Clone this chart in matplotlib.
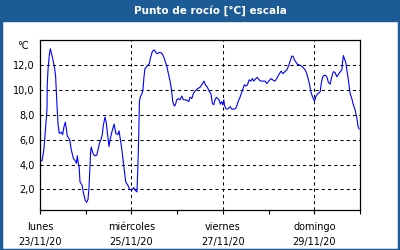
import matplotlib.pyplot as plt
import numpy as np

# horas desde lunes 23/11/20 00:00, punto de rocío en °C
horas = [0, 1.05, 1.6, 2.1, 2.5, 3.0, 3.7, 3.8, 4.2, 4.9, 5.4, 5.9, 6.7, 7.2, 7.7, 8.2,
         8.9, 9.5, 10.1, 11.2, 11.9, 12.6, 13.3, 13.8, 14.3, 15.6, 16.4, 17.5, 18.5,
         19.1, 19.6, 20.0, 20.6, 21.0, 22.1, 22.7, 23.8, 24.5, 25.2, 25.7, 26.3, 26.6,
         26.9, 27.8, 28.7, 29.8, 30.6, 31.4, 32.0, 32.7, 33.2, 34.1, 34.7, 35.6, 36.2,
         36.8, 37.7, 38.9, 39.8, 40.8, 41.5, 42.2, 42.9, 43.7, 44.3, 45.0, 46.1, 47.1,
         48.2, 49.2, 49.9, 50.9, 51.3, 51.8, 52.2, 52.7, 53.6, 54.1, 54.6, 55.1, 56.2,
         57.4, 57.9, 59.0, 60.0, 60.4, 61.3, 62.7, 63.9, 64.8, 65.7, 66.5, 67.4, 68.3,
         69.0, 69.7, 70.5, 71.1, 71.8, 72.6, 73.5, 74.4, 75.3, 76.7, 78.1, 78.8, 79.7,
         80.5, 81.4, 82.8, 84.0, 85.1, 86.1, 86.8, 87.9, 88.8, 89.8, 90.5, 91.2, 91.9,
         92.6, 93.3, 94.0, 94.7, 95.4, 96.0, 96.5, 96.8, 97.5, 98.2, 98.9, 99.8, 100.7,
         101.5, 102.8, 103.5, 104.1, 105.0, 105.9, 106.6, 107.3, 108.0, 108.9, 109.8,
         110.7, 111.5, 112.2, 113.3, 114.1, 115.0, 116.1, 117.3, 118.2, 119.1, 120.1,
         121.3, 122.2, 123.1, 123.9, 124.8, 125.7, 126.6, 127.5, 128.5, 129.6, 130.6,
         131.3, 132.2, 132.9, 133.6, 134.5, 135.1, 136.2, 137.4, 138.7, 139.7, 140.6,
         141.4, 142.2, 142.9, 143.5, 144.1, 144.8, 145.6, 146.7, 147.1, 147.6, 148.3,
         149.0, 150.0, 150.7, 151.4, 152.3, 153.2, 154.0, 154.9, 155.8, 156.7, 157.6,
         158.5, 158.8, 159.3, 159.8, 160.6, 161.1, 161.9, 162.8, 163.7, 164.5, 165.4,
         166.4, 166.9, 167.5]
rocio = [4.3, 4.3, 4.77, 5.3, 6.1, 7.2, 8.5, 10.4, 11.6, 12.8, 13.3, 13.0, 12.5, 12.1,
         11.7, 11.1, 8.8, 7.2, 6.5, 6.6, 6.4, 7.05, 7.4, 6.9, 6.3, 6.0, 5.2, 4.5, 4.3,
         4.1, 4.7, 4.2, 3.7, 2.6, 2.35, 1.8, 1.1, 0.97, 1.2, 2.1, 4.0, 5.05, 5.4, 4.9,
         4.7, 4.75, 5.3, 5.8, 6.0, 6.4, 7.1, 7.8, 7.45, 6.25, 5.45, 6.0, 6.6, 7.25, 6.5,
         6.4, 6.7, 6.0, 5.3, 4.25, 3.4, 2.6, 2.35, 2.0, 1.95, 2.15, 1.95, 1.8, 3.4, 6.1,
         9.05, 9.45, 9.7, 10.1, 11.07, 11.7, 11.9, 12.1, 12.5, 13.1, 13.2, 13.1, 12.9,
         13.0, 12.95, 12.7, 12.3, 11.95, 11.3, 10.7, 10.0, 9.05, 8.7, 8.8, 9.2, 9.3, 9.2,
         9.5, 9.2, 9.2, 9.05, 9.4, 9.3, 9.7, 9.9, 10.1, 10.2, 10.45, 10.7, 10.4, 10.2,
         9.9, 9.65, 8.9, 8.8, 9.2, 9.4, 9.3, 9.2, 8.85, 9.05, 8.8, 9.2, 8.8, 8.5, 8.45,
         8.5, 8.65, 8.45, 8.45, 8.5, 8.8, 9.1, 9.4, 9.8, 10.1, 10.4, 10.3, 10.4, 10.8,
         10.7, 10.9, 10.7, 10.9, 11.0, 10.8, 10.7, 10.7, 10.7, 10.5, 10.7, 10.9, 10.8,
         10.7, 10.8, 11.05, 11.3, 11.5, 11.3, 11.45, 11.6, 11.95, 12.3, 12.7, 12.7, 12.4,
         12.2, 12.05, 12.0, 11.9, 11.7, 11.45, 11.0, 10.5, 9.85, 9.5, 9.3, 9.1, 9.45,
         9.65, 9.8, 9.85, 10.45, 11.0, 11.15, 11.15, 11.0, 10.6, 10.45, 11.05, 11.45,
         11.4, 11.05, 11.25, 11.45, 11.6, 12.2, 12.75, 12.5, 12.15, 11.6, 10.8, 9.7,
         9.3, 8.8, 8.4, 7.7, 7.1, 6.85]

dias_pos = [0, 48, 96, 144]
dias_lbl = ['lunes\n23/11/20', 'miércoles\n25/11/20', 'viernes\n27/11/20', 'domingo\n29/11/20']
y_ticks = [2, 4, 6, 8, 10, 12]

azul = '#1d5b96'
plt.rcParams['font.family'] = ['DejaVu Sans']

fig = plt.figure(figsize=(4, 2.5), dpi=100)
fig.patches.append(plt.Rectangle((0, 0.916), 1, 0.084, transform=fig.transFigure,
                                 color=azul, zorder=0))
fig.patches.append(plt.Rectangle((0.002, 0.002), 0.995, 0.995, transform=fig.transFigure,
                                 fill=False, edgecolor=azul, lw=2.5, zorder=0))
fig.text(0.525, 0.958, 'Punto de rocío [°C] escala', color='white', fontsize=7.5,
         fontweight='bold', ha='center', va='center')

ax = fig.add_axes([0.1, 0.16, 0.8, 0.68])
ax.plot(horas, rocio, color='#0000ff', lw=0.8)

ax.set_xlim(0, 168)
ax.set_ylim(0.35, 14)
ax.set_xticks(dias_pos)
ax.set_xticklabels(dias_lbl, fontsize=7, linespacing=1.6)
ax.set_xticks([24, 72, 120, 168], minor=True)
ax.set_yticks(y_ticks)
ax.set_yticklabels([f'{v:.1f}'.replace('.', ',') for v in y_ticks], fontsize=7)
ax.tick_params(axis='x', which='both', direction='out', length=3, width=0.8, pad=6)
ax.tick_params(axis='y', length=0, pad=4)
ax.grid(True, color='black', ls=(0, (3, 3)), lw=0.75)
ax.text(-0.035, 0.965, '°C', transform=ax.transAxes, fontsize=7, ha='right', va='center')
for s in ax.spines.values():
    s.set_linewidth(0.9)

fig.savefig('out.png', dpi=100)
